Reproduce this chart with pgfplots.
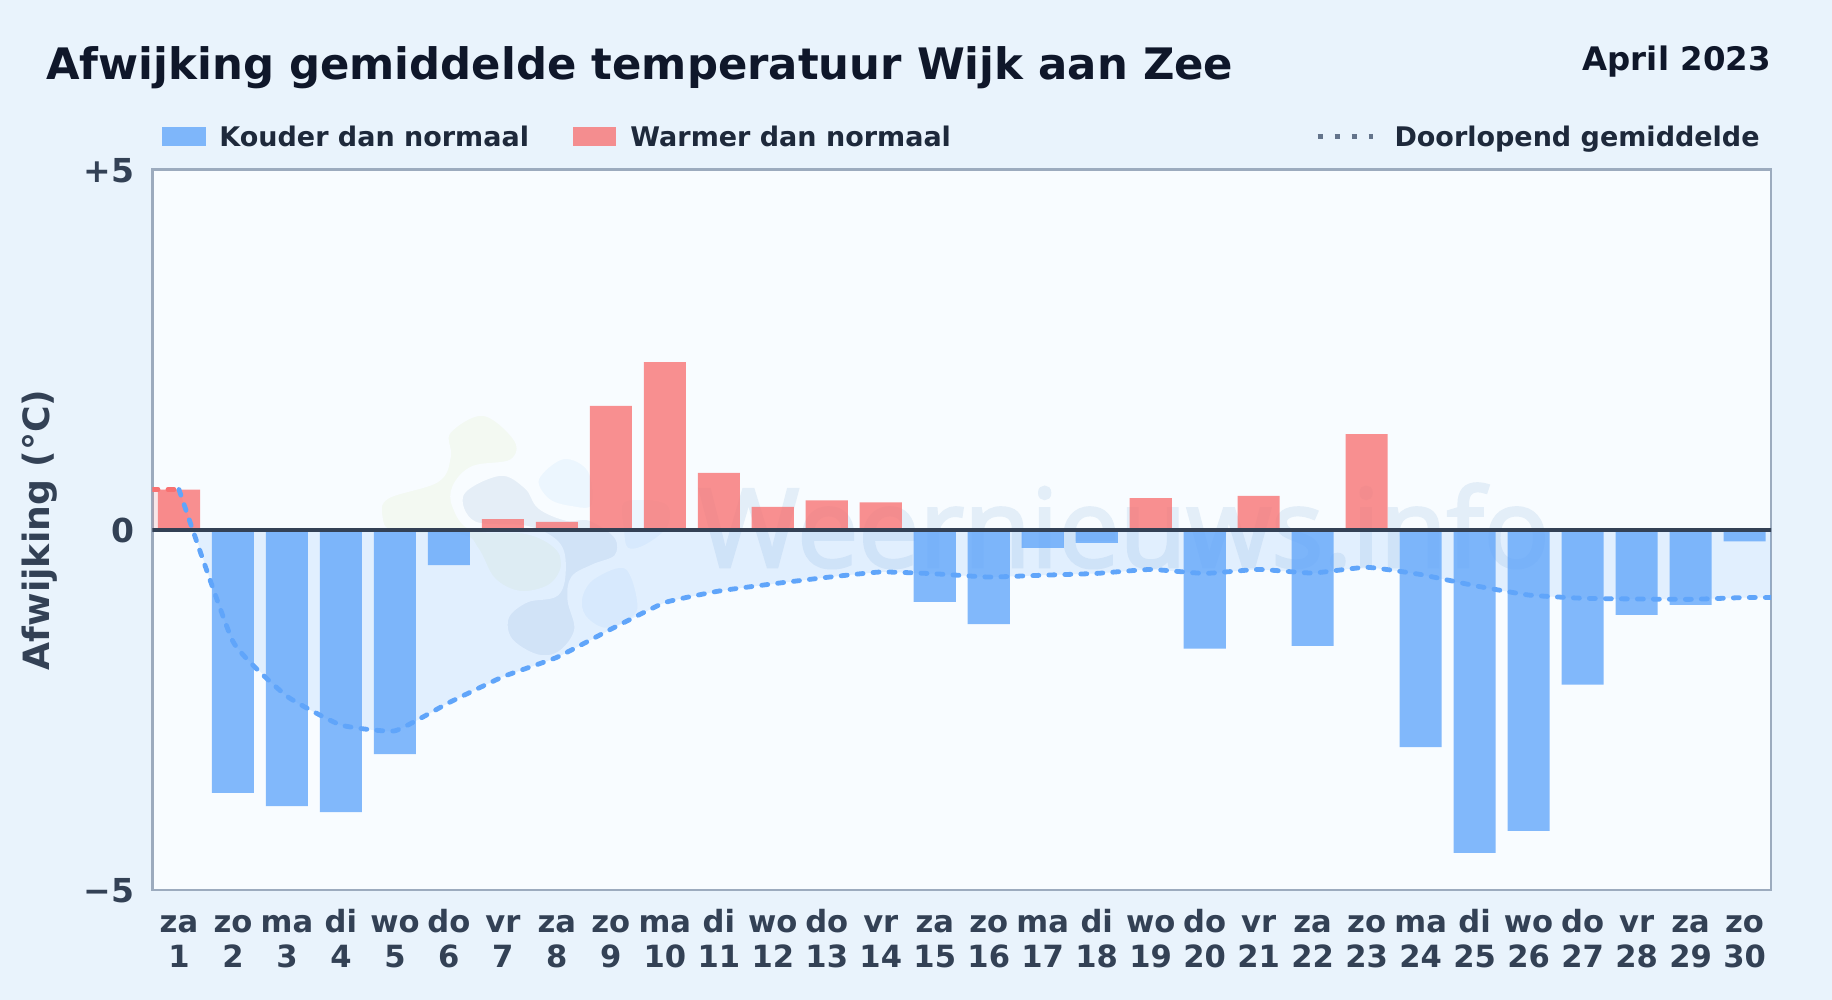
\documentclass[border=0pt]{standalone}
\usepackage{fontspec}
\usepackage{pgfplots}
\pgfplotsset{compat=1.18}
\setmainfont{DejaVu Sans}
\newfontfamily\wmfont{Open Sans}[FakeBold=2.6]
\definecolor{pagebg}{HTML}{E9F3FC}
\definecolor{plotbg}{HTML}{F8FCFF}
\definecolor{frame}{HTML}{9CABBE}
\definecolor{zero}{HTML}{334155}
\definecolor{coldc}{HTML}{60A5FA}
\definecolor{warmc}{HTML}{F87171}
\definecolor{titlec}{HTML}{0F172A}
\definecolor{legc}{HTML}{1E293B}
\definecolor{tickc}{HTML}{334155}
\definecolor{dotc}{HTML}{64748B}
\definecolor{blobg}{HTML}{F3F9F2}
\definecolor{blobb}{HTML}{E5EEF7}
\definecolor{blobc}{HTML}{ECF6FE}
\definecolor{wmc}{HTML}{E3EEF8}
\newcommand\tl[2]{\rule{0pt}{12pt}#1\\#2}
\begin{document}
\begin{tikzpicture}
\fill[pagebg] (0,0) rectangle (916pt,500pt);
\fill[plotbg] (76.25pt,55pt) rectangle (885.5pt,415.15pt);
% watermark logo (1 unit = 1/3 px of the reference)
\begin{scope}[x=0.16667pt,y=-0.16667pt,shift={(180pt,305pt)}]
\draw[draw=plotbg,line width=2.5pt,fill=blobg] plot[smooth cycle,tension=0.6] coordinates {(265,125)(370,70)(470,150)(455,215)(340,235)(285,290)(285,350)(340,415)(500,425)(590,470)(610,530)(570,590)(480,610)(400,570)(350,480)(300,440)(100,430)(60,380)(80,320)(230,270)(265,200)};
\draw[draw=plotbg,line width=2.5pt,fill=blobc] plot[smooth cycle,tension=0.6] coordinates {(530,265)(610,200)(690,240)(700,350)(630,355)(560,330)};
\draw[draw=plotbg,line width=2.5pt,fill=blobc] plot[smooth cycle,tension=0.6] coordinates {(790,330)(920,335)(930,410)(860,470)(800,480)(785,420)};
\draw[draw=plotbg,line width=2.5pt,fill=blobc] plot[smooth cycle,tension=0.6] coordinates {(660,620)(700,560)(800,530)(840,650)(800,700)(730,720)(670,680)};
\draw[draw=plotbg,line width=2.5pt,fill=blobb] plot[smooth cycle,tension=0.6] coordinates {(305,310)(420,250)(500,290)(540,350)(620,385)(690,385)(770,440)(770,500)(700,530)(640,565)(630,630)(650,720)(600,790)(530,800)(450,750)(440,680)(500,630)(590,610)(610,530)(590,460)(500,415)(340,400)};
\end{scope}
\begin{scope}[x=0.5pt,y=-0.5pt,shift={(0,500pt)}]
\node[anchor=base west,inner sep=0,text=wmc,font=\wmfont\fontsize{54.5}{60}\selectfont] at (698,567) {Weernieuws.info};
\end{scope}
\begin{axis}[
  at={(76.25pt,55pt)},anchor=south west,
  scale only axis,width=809.25pt,height=360.15pt,
  xmin=0.51,xmax=30.49,ymin=-5,ymax=5,
  axis line style={frame,line width=1.45pt},
  tick style={draw=none},
  major tick length=0pt,
  xtick={1,...,30},
  xticklabels={{\tl{za}{1}},{\tl{zo}{2}},{\tl{ma}{3}},{\tl{di}{4}},{\tl{wo}{5}},{\tl{do}{6}},{\tl{vr}{7}},{\tl{za}{8}},{\tl{zo}{9}},{\tl{ma}{10}},{\tl{di}{11}},{\tl{wo}{12}},{\tl{do}{13}},{\tl{vr}{14}},{\tl{za}{15}},{\tl{zo}{16}},{\tl{ma}{17}},{\tl{di}{18}},{\tl{wo}{19}},{\tl{do}{20}},{\tl{vr}{21}},{\tl{za}{22}},{\tl{zo}{23}},{\tl{ma}{24}},{\tl{di}{25}},{\tl{wo}{26}},{\tl{do}{27}},{\tl{vr}{28}},{\tl{za}{29}},{\tl{zo}{30}}},
  x tick label style={align=center,text=tickc,inner sep=0pt,yshift=-9.2pt,font=\bfseries\fontsize{15.3}{17.3}\selectfont},
  ytick={-5,0,5},
  yticklabels={−5,0,+5},
  y tick label style={text=tickc,inner sep=0pt,xshift=-9pt,yshift=-0.4pt,font=\bfseries\fontsize{16.5}{18}\selectfont},
  ylabel={Afwijking (°C)},
  every axis y label/.style={at={(axis description cs:-0.0698,0.5)},anchor=center,rotate=90,text=tickc,font=\bfseries\fontsize{18.1}{20}\selectfont},
  clip=true,
]
% running-mean area
\addplot[draw=none,fill=warmc,fill opacity=0.15,forget plot] coordinates {(0.5,0)(0.5,0.56)(1,0.56)(1.27,0)} \closedcycle;
\addplot[draw=none,fill=coldc,fill opacity=0.15,smooth,tension=0.25,forget plot] coordinates {
(1.27,0)(2,-1.55)(3,-2.31)(4,-2.71)(5,-2.79)(6,-2.40)(7,-2.04)(8,-1.77)(9,-1.38)(10,-1.01)(11,-0.85)(12,-0.75)(13,-0.66)(14,-0.585)(15,-0.61)(16,-0.655)(17,-0.63)(18,-0.605)(19,-0.55)(20,-0.605)(21,-0.55)(22,-0.60)(23,-0.52)(24,-0.62)(25,-0.775)(26,-0.905)(27,-0.95)(28,-0.96)(29,-0.965)(30,-0.94)(30.5,-0.94)} \closedcycle;
% bars
\addplot[ybar,bar width=0.78,bar shift=0pt,draw=none,fill=coldc,fill opacity=0.78] coordinates {
(2,-3.65)(3,-3.835)(4,-3.92)(5,-3.115)(6,-0.49)(15,-1.00)(16,-1.31)(17,-0.25)(18,-0.18)(20,-1.65)(22,-1.61)(24,-3.015)(25,-4.485)(26,-4.18)(27,-2.15)(28,-1.18)(29,-1.04)(30,-0.16)};
\addplot[ybar,bar width=0.78,bar shift=0pt,draw=none,fill=warmc,fill opacity=0.78] coordinates {
(1,0.56)(7,0.15)(8,0.11)(9,1.72)(10,2.33)(11,0.79)(12,0.32)(13,0.41)(14,0.38)(19,0.44)(21,0.47)(23,1.33)};
% running mean
\addplot[warmc,line width=2.4pt,line cap=round,dash pattern=on 3pt off 5pt] coordinates {(0.5,0.56)(1,0.56)};
\addplot[coldc,line width=2.4pt,line cap=round,dash pattern=on 3pt off 5pt,smooth,tension=0.25] coordinates {
(1,0.56)(2,-1.55)(3,-2.31)(4,-2.71)(5,-2.79)(6,-2.40)(7,-2.04)(8,-1.77)(9,-1.38)(10,-1.01)(11,-0.85)(12,-0.75)(13,-0.66)(14,-0.585)(15,-0.61)(16,-0.655)(17,-0.63)(18,-0.605)(19,-0.55)(20,-0.605)(21,-0.55)(22,-0.60)(23,-0.52)(24,-0.62)(25,-0.775)(26,-0.905)(27,-0.95)(28,-0.96)(29,-0.965)(30,-0.94)(30.5,-0.94)};
% zero line
\addplot[zero,line width=2pt] coordinates {(0.4,0)(30.6,0)};
\end{axis}
\begin{scope}[x=0.5pt,y=-0.5pt,shift={(0,500pt)}]
\node[anchor=base west,inner sep=0,text=titlec,font=\bfseries\fontsize{21.68}{24}\selectfont] at (46,80) {Afwijking gemiddelde temperatuur Wijk aan Zee};
\node[anchor=base east,inner sep=0,text=titlec,font=\bfseries\fontsize{16.2}{18}\selectfont] at (1771,71) {April 2023};
\fill[coldc,opacity=0.78] (162,127) rectangle (206,146);
\node[anchor=base west,inner sep=0,text=legc,font=\bfseries\fontsize{13.5}{15}\selectfont] at (219,146.3) {Kouder dan normaal};
\fill[warmc,opacity=0.78] (573,127) rectangle (616,146);
\node[anchor=base west,inner sep=0,text=legc,font=\bfseries\fontsize{13.5}{15}\selectfont] at (630,146.3) {Warmer dan normaal};
\draw[dotc,line width=2.2pt,dash pattern=on 2.4pt off 6.1pt] (1317.7,136.7) -- (1373,136.7);
\node[anchor=base east,inner sep=0,text=legc,font=\bfseries\fontsize{13.5}{15}\selectfont] at (1760,146.3) {Doorlopend gemiddelde};
\end{scope}
\end{tikzpicture}
\end{document}
